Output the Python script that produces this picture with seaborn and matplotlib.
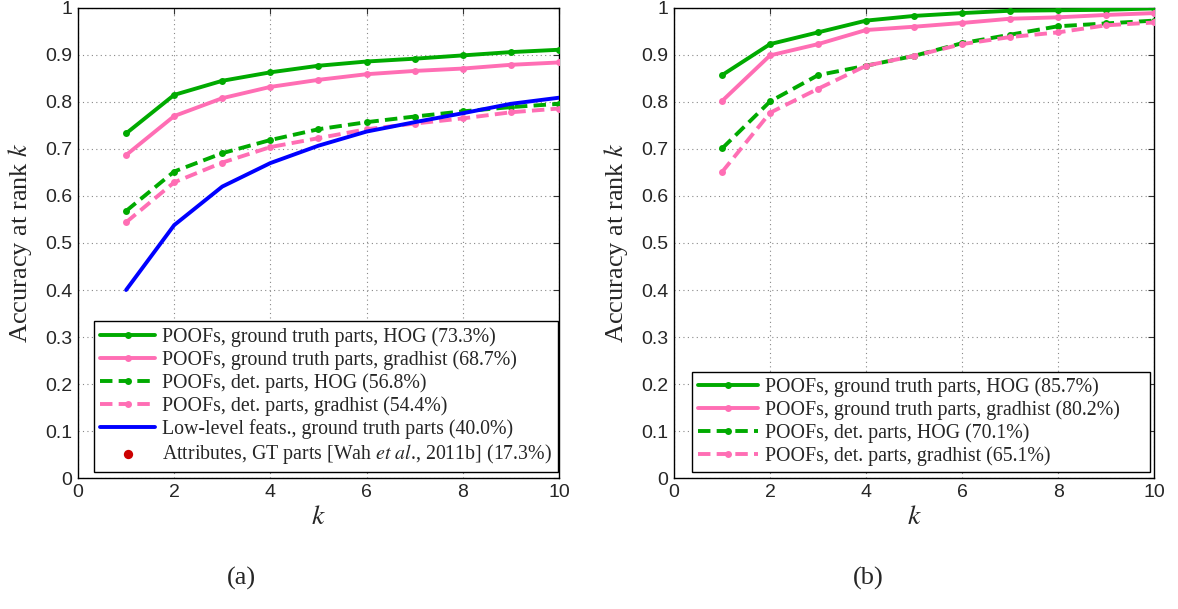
import matplotlib
matplotlib.use("Agg")
import matplotlib.pyplot as plt
import seaborn as sns
import pandas as pd

ranks = list(range(1, 11))

# (a) accuracy at rank k
a_gt_hog = [0.733, 0.815, 0.845, 0.863, 0.877, 0.886, 0.892, 0.899, 0.906, 0.911]
a_gt_grad = [0.687, 0.770, 0.808, 0.832, 0.847, 0.859, 0.866, 0.871, 0.879, 0.884]
a_det_hog = [0.568, 0.652, 0.691, 0.719, 0.742, 0.757, 0.769, 0.780, 0.789, 0.796]
a_det_grad = [0.544, 0.629, 0.671, 0.704, 0.723, 0.742, 0.754, 0.765, 0.778, 0.786]
a_lowlevel = [0.400, 0.538, 0.620, 0.670, 0.707, 0.737, 0.757, 0.776, 0.796, 0.809]
a_attr = 0.173

# (b) accuracy at rank k
b_gt_hog = [0.857, 0.923, 0.948, 0.973, 0.983, 0.989, 0.994, 0.995, 0.996, 0.999]
b_gt_grad = [0.802, 0.899, 0.923, 0.953, 0.960, 0.968, 0.977, 0.980, 0.985, 0.989]
b_det_hog = [0.701, 0.801, 0.857, 0.877, 0.898, 0.925, 0.943, 0.961, 0.967, 0.973]
b_det_grad = [0.651, 0.777, 0.828, 0.877, 0.898, 0.923, 0.938, 0.948, 0.963, 0.969]

labels_a = [
    "POOFs, ground truth parts, HOG (73.3%)",
    "POOFs, ground truth parts, gradhist (68.7%)",
    "POOFs, det. parts, HOG (56.8%)",
    "POOFs, det. parts, gradhist (54.4%)",
    "Low-level feats., ground truth parts (40.0%)",
    "Attributes, GT parts [Wah $\\it{et\\ al}$., 2011b] (17.3%)",
]
labels_b = [
    "POOFs, ground truth parts, HOG (85.7%)",
    "POOFs, ground truth parts, gradhist (80.2%)",
    "POOFs, det. parts, HOG (70.1%)",
    "POOFs, det. parts, gradhist (65.1%)",
]
yticks = [0, 0.1, 0.2, 0.3, 0.4, 0.5, 0.6, 0.7, 0.8, 0.9, 1]
ytick_labels = ["0", "0.1", "0.2", "0.3", "0.4", "0.5", "0.6", "0.7", "0.8", "0.9", "1"]
xticks = [0, 2, 4, 6, 8, 10]

GREEN = "#00aa00"
PINK = "#ff6eb4"
BLUE = "#0000ff"
RED = "#cc0000"
DASH = (0, (3.2, 1.6))

sns.set_theme(style="white")
plt.rcParams["font.family"] = ["Liberation Serif", "DejaVu Serif"]
plt.rcParams["mathtext.fontset"] = "stix"

fig = plt.figure(figsize=(11.78, 6.09), dpi=100)
ax_a = fig.add_axes([0.0662, 0.215, 0.4083, 0.772])
ax_b = fig.add_axes([0.5722, 0.215, 0.4075, 0.772])


def curve(ax, y, color, style, label, marker="o"):
    df = pd.DataFrame({"k": ranks, "acc": y})
    sns.lineplot(data=df, x="k", y="acc", ax=ax, color=color, linewidth=2.8,
                 marker=marker, markersize=5, markeredgewidth=0,
                 label=label, zorder=3)
    line = ax.get_lines()[-1]
    line.set_linestyle(style)


def style_axes(ax):
    ax.set_xlim(0, 10)
    ax.set_ylim(0, 1)
    ax.set_xticks(xticks)
    ax.set_xticklabels([str(t) for t in xticks], family="Liberation Sans", fontsize=14)
    ax.set_yticks(yticks)
    ax.set_yticklabels(ytick_labels, family="Liberation Sans", fontsize=14)
    ax.tick_params(direction="in", top=True, right=True, length=4, width=0.8,
                   color="#333333", pad=4)
    ax.grid(True, linestyle=(0, (1, 3)), color="#888888", linewidth=0.8)
    for s in ax.spines.values():
        s.set_visible(True)
        s.set_color("black")
        s.set_linewidth(1.0)
    ax.set_xlabel("$k$", fontsize=20, labelpad=3)
    ax.set_ylabel("Accuracy at rank $k$", fontsize=19, labelpad=8)


def add_legend(ax, box, handlelength):
    leg = ax.legend(loc="lower left", bbox_to_anchor=box, mode="expand",
                    fontsize=14.3, frameon=True, fancybox=False, edgecolor="black",
                    framealpha=1, handlelength=handlelength, handletextpad=0.35,
                    labelspacing=0.16, borderpad=0.3, borderaxespad=0)
    leg.get_frame().set_linewidth(1.0)
    leg.set_zorder(5)
    return leg


# panel (a)
curve(ax_a, a_gt_hog, GREEN, "-", labels_a[0])
curve(ax_a, a_gt_grad, PINK, "-", labels_a[1])
curve(ax_a, a_det_hog, GREEN, DASH, labels_a[2])
curve(ax_a, a_det_grad, PINK, DASH, labels_a[3])
sns.lineplot(x=ranks, y=a_lowlevel, ax=ax_a, color=BLUE, linewidth=2.8,
             label=labels_a[4], zorder=3)
sns.scatterplot(x=[1], y=[a_attr], ax=ax_a, color=RED, s=45, linewidth=0,
                label=labels_a[5], zorder=2)
style_axes(ax_a)
add_legend(ax_a, (0.033, 0.013, 0.965, 0.0), 2.8)

# panel (b)
curve(ax_b, b_gt_hog, GREEN, "-", labels_b[0])
curve(ax_b, b_gt_grad, PINK, "-", labels_b[1])
curve(ax_b, b_det_hog, GREEN, DASH, labels_b[2])
curve(ax_b, b_det_grad, PINK, DASH, labels_b[3])
style_axes(ax_b)
add_legend(ax_b, (0.0375, 0.013, 0.954, 0.0), 3.0)

fig.text(241 / 1178, 1 - 578 / 609, "(a)", fontsize=19, ha="center", va="center")
fig.text(868 / 1178, 1 - 578 / 609, "(b)", fontsize=19, ha="center", va="center")

fig.savefig("out.png", dpi=100)
